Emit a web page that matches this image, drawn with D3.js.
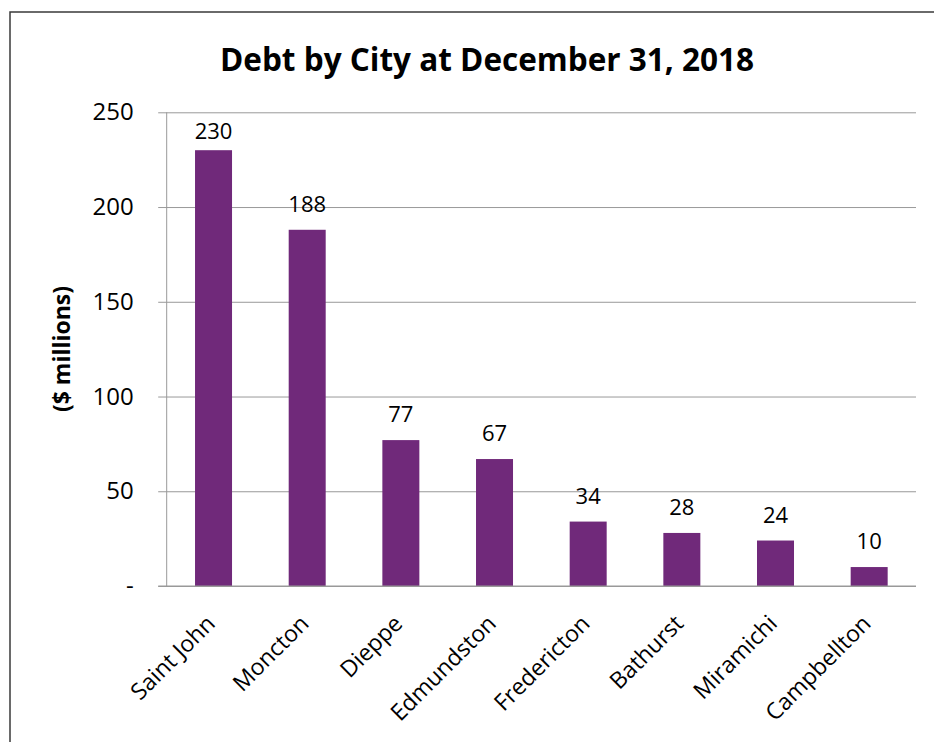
<!DOCTYPE html>
<html>
<head>
<meta charset="utf-8">
<title>Debt by City</title>
<script src="https://cdn.jsdelivr.net/npm/d3@7"></script>
<style>
body { margin: 0; background: #fff; }
svg { display: block; font-family: "Open Sans", "Noto Sans", sans-serif; }
</style>
</head>
<body>
<script>
// data
var cities = ["Saint John", "Moncton", "Dieppe", "Edmundston", "Fredericton", "Bathurst", "Miramichi", "Campbellton"];
var debt = [230, 188, 77, 67, 34, 28, 24, 10];
var yTicks = [0, 50, 100, 150, 200, 250];

var width = 934, height = 742;
var plotLeft = 166.7, plotRight = 916, plotTop = 112.3, plotBottom = 586;
var barColor = "#70297a";

var svg = d3.select("body").append("svg")
	.attr("width", width)
	.attr("height", height);

// chart frame (only left / top edges land inside the window)
svg.append("rect")
	.attr("x", 10).attr("y", 12)
	.attr("width", 1000).attr("height", 1000)
	.attr("fill", "#fff")
	.attr("stroke", "#3a3a3a")
	.attr("stroke-width", 1.5);

var x = d3.scaleBand()
	.domain(cities)
	.range([plotLeft, plotRight])
	.paddingInner(0.605)
	.paddingOuter(0.3025);

var y = d3.scaleLinear()
	.domain([0, 250])
	.range([plotBottom, plotTop]);

// gridlines + y ticks
var yAxis = d3.axisLeft(y)
	.tickValues(yTicks)
	.tickSize(-(plotRight - plotLeft))
	.tickPadding(33)
	.tickFormat(function(d) { return d === 0 ? "-" : d; });

var gy = svg.append("g")
	.attr("transform", "translate(" + plotLeft + ",0)")
	.call(yAxis);
gy.select(".domain").remove();
gy.selectAll(".tick line")
	.attr("x1", -8.5)
	.attr("stroke", "#999");
gy.selectAll(".tick text")
	.attr("font-size", 24)
	.attr("fill", "#000")
	.attr("font-family", "Open Sans");

// vertical axis line
svg.append("line")
	.attr("x1", plotLeft).attr("x2", plotLeft)
	.attr("y1", plotTop).attr("y2", plotBottom)
	.attr("stroke", "#999");

// bars
svg.selectAll("rect.bar")
	.data(debt)
	.join("rect")
	.attr("class", "bar")
	.attr("x", function(d, i) { return x(cities[i]); })
	.attr("y", function(d) { return y(d); })
	.attr("width", x.bandwidth())
	.attr("height", function(d) { return y(0) - y(d); })
	.attr("fill", barColor);

// baseline over bars
svg.append("line")
	.attr("x1", plotLeft - 8.5).attr("x2", plotRight)
	.attr("y1", plotBottom).attr("y2", plotBottom)
	.attr("stroke", "#999");

// value labels (kept inside the plot area at the top, like excel does)
svg.selectAll("text.val")
	.data(debt)
	.join("text")
	.attr("class", "val")
	.attr("x", function(d, i) { return x(cities[i]) + x.bandwidth() / 2; })
	.attr("y", function(d) { return Math.max(y(d) - 18, plotTop + 27); })
	.attr("text-anchor", "middle")
	.attr("font-size", 22)
	.text(function(d) { return d; });

// category labels, rotated
svg.selectAll("text.cat")
	.data(cities)
	.join("text")
	.attr("class", "cat")
	.attr("text-anchor", "end")
	.attr("font-size", 23)
	.attr("transform", function(d) {
		return "translate(" + (x(d) + x.bandwidth() / 2 + 3) + "," + (plotBottom + 39) + ") rotate(-45)";
	})
	.text(function(d) { return d; });

// y axis title
svg.append("text")
	.attr("transform", "translate(70,349) rotate(-90)")
	.attr("text-anchor", "middle")
	.attr("font-size", 23)
	.attr("font-weight", "bold")
	.text("($ millions)");

// title
svg.append("text")
	.attr("x", 487).attr("y", 71)
	.attr("text-anchor", "middle")
	.attr("font-size", 31.5)
	.attr("font-weight", "bold")
	.text("Debt by City at December 31, 2018");
</script>
</body>
</html>
